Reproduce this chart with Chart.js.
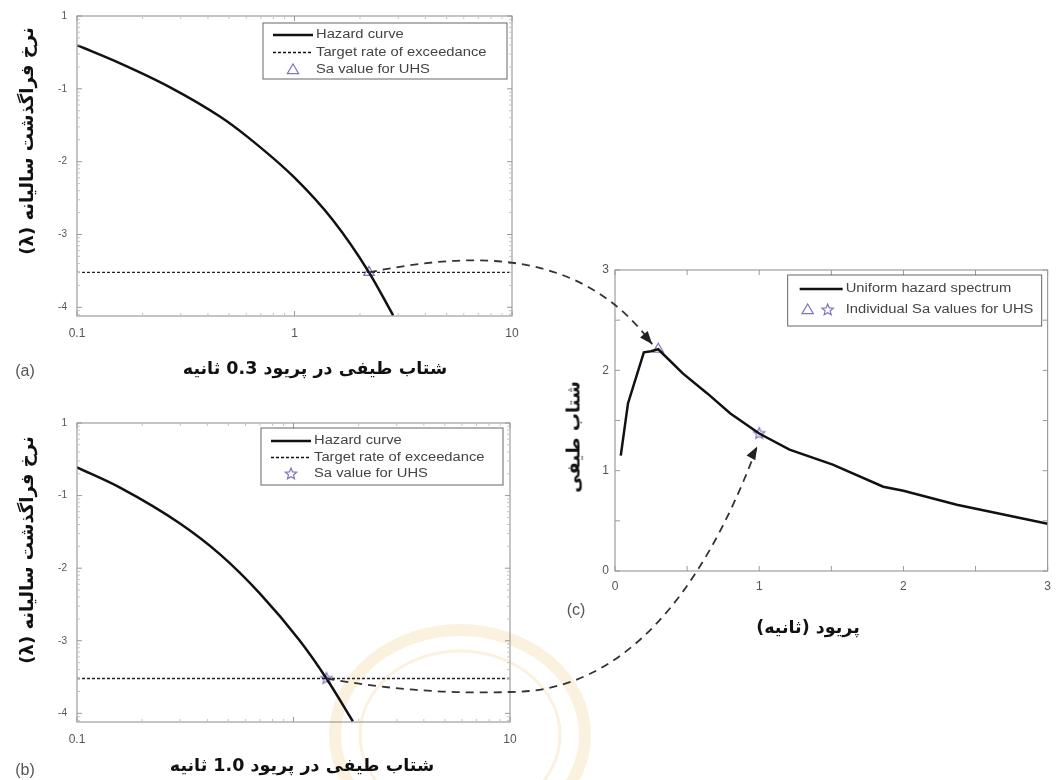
<!DOCTYPE html>
<html>
<head>
<meta charset="utf-8">
<script src="https://cdn.jsdelivr.net/npm/chart.js@4.4.0/dist/chart.umd.min.js"></script>
<style>
  body { margin: 0; background: #fff; width: 1059px; height: 780px; position: relative; overflow: hidden; font-family: "Liberation Sans", Arial, sans-serif; }
  canvas { position: absolute; display: block; }
  .fa { position: absolute; font-family: "DejaVu Sans", sans-serif; font-weight: bold; font-size: 17.5px; color: #111; direction: rtl; white-space: nowrap; transform: translate(-50%, -50%); }
  .fa.rot { font-size: 18px; transform: translate(-50%, -50%) rotate(-90deg); }
  .tag { position: absolute; font-size: 16px; color: #555; transform: translate(-50%, -50%); }
</style>
</head>
<body>
<canvas id="bg" width="1059" height="780" style="left:0;top:0"></canvas>
<canvas id="chartA" width="540" height="345" style="left:0;top:0"></canvas>
<canvas id="chartB" width="540" height="350" style="left:0;top:400px"></canvas>
<canvas id="chartC" width="499" height="345" style="left:560px;top:250px"></canvas>
<canvas id="arrows" width="1059" height="780" style="left:0;top:0;pointer-events:none"></canvas>

<div class="fa rot" style="left:26px;top:141px">نرخ فراگذشت سالیانه (λ)</div>
<div class="fa" style="left:315px;top:368px">شتاب طیفی در پریود 0.3 ثانیه</div>
<div class="tag" style="left:25px;top:371px">(a)</div>

<div class="fa rot" style="left:26px;top:550px">نرخ فراگذشت سالیانه (λ)</div>
<div class="fa" style="left:302px;top:765px">شتاب طیفی در پریود 1.0 ثانیه</div>
<div class="tag" style="left:25px;top:770px">(b)</div>

<div class="fa rot" style="left:573px;top:437px">شتاب طیفی</div>
<div class="fa" style="left:808px;top:627px">پریود (ثانیه)</div>
<div class="tag" style="left:576px;top:610px">(c)</div>

<script>
// hazard curve for T = 0.3 s
const hazardA_sa = [0.1, 0.158, 0.268, 0.454, 0.6, 1.0, 1.5, 2.2, 2.84];
const hazardA_rate = [0.398, 0.224, 0.105, 0.0417, 0.0226, 0.00603, 0.00158, 0.000302, 0.0000776];
// hazard curve for T = 1.0 s
const hazardB_sa = [0.1, 0.158, 0.299, 0.458, 0.70, 1.07, 1.42, 1.88];
const hazardB_rate = [0.245, 0.129, 0.0413, 0.0155, 0.00447, 0.001, 0.000302, 0.0000776];
const targetRate = 0.000302;
// Sa where each hazard curve meets the target rate
const hazardMarkSa = [2.2, 1.42];

// uniform hazard spectrum
const uhsPeriod = [0.04, 0.09, 0.2, 0.25, 0.3, 0.47, 0.64, 0.8, 1.0, 1.21, 1.51, 1.86, 2.0, 2.37, 3.0];
const uhsSa = [1.15, 1.67, 2.18, 2.19, 2.21, 1.97, 1.77, 1.57, 1.37, 1.21, 1.06, 0.84, 0.80, 0.66, 0.47];
const markPeriod = [0.3, 1.0];
const markSa = [2.21, 1.37];

const hazardXTicks = [0.1, 1, 10];
const hazardXLabelsA = ['0.1', '1', '10'];
const hazardXLabelsB = ['0.1', '', '10'];
const hazardYTicks = [0.0001, 0.001, 0.01, 0.1, 1];
const hazardYLabels = ['-4', '-3', '-2', '-1', '1'];
const hazardRateMin = 0.000076;

const legendA = ['Hazard curve', 'Target rate of exceedance', 'Sa value for UHS'];
const legendC = ['Uniform hazard spectrum', 'Individual Sa values for UHS'];

const MARK = '#7d76c0';
Chart.defaults.font.family = '"Liberation Sans", Arial, sans-serif';
Chart.defaults.color = '#555';

function starImage(r, color) {
  const c = document.createElement('canvas');
  c.width = c.height = 2 * r + 4;
  drawStar(c.getContext('2d'), c.width / 2, c.height / 2, r, color);
  return c;
}
function drawStar(g, cx, cy, r, color) {
  g.beginPath();
  for (let i = 0; i < 10; i++) {
    const a = -Math.PI / 2 + i * Math.PI / 5;
    const rr = i % 2 ? r * 0.45 : r;
    g.lineTo(cx + rr * Math.cos(a), cy + rr * Math.sin(a));
  }
  g.closePath();
  g.strokeStyle = color; g.lineWidth = 1.2; g.setLineDash([]); g.stroke();
}
function drawTri(g, cx, cy, r, color) {
  g.beginPath();
  g.moveTo(cx, cy - r); g.lineTo(cx + r * 0.95, cy + r * 0.6); g.lineTo(cx - r * 0.95, cy + r * 0.6);
  g.closePath();
  g.strokeStyle = color; g.lineWidth = 1.2; g.setLineDash([]); g.stroke();
}

function tickList(scale) {
  const out = [];
  if (scale.type === 'logarithmic') {
    for (let e = -5; e <= 1; e++) for (let m = 1; m < 10; m++) {
      const v = m * Math.pow(10, e);
      if (v >= scale.min * 0.999 && v <= scale.max * 1.001) out.push([v, m === 1]);
    }
  } else {
    scale.ticks.forEach(t => out.push([t.value, true]));
  }
  return out;
}

// MATLAB-like box, inward ticks and in-axes legend
const frame = {
  id: 'frame',
  afterDraw(chart, args, opts) {
    const { ctx, chartArea: a, scales } = chart;
    ctx.save();
    ctx.strokeStyle = '#8a8a8a'; ctx.lineWidth = 1; ctx.setLineDash([]);
    ctx.strokeRect(a.left, a.top, a.right - a.left, a.bottom - a.top);
    tickList(scales.x).forEach(([v, major]) => {
      const px = scales.x.getPixelForValue(v), L = major ? 5 : 3;
      ctx.strokeStyle = major ? '#999' : '#c4c4c4';
      ctx.beginPath();
      ctx.moveTo(px, a.bottom); ctx.lineTo(px, a.bottom - L);
      ctx.moveTo(px, a.top); ctx.lineTo(px, a.top + L);
      ctx.stroke();
    });
    tickList(scales.y).forEach(([v, major]) => {
      const py = scales.y.getPixelForValue(v), L = major ? 5 : 3;
      ctx.strokeStyle = major ? '#999' : '#c4c4c4';
      ctx.beginPath();
      ctx.moveTo(a.left, py); ctx.lineTo(a.left + L, py);
      ctx.moveTo(a.right, py); ctx.lineTo(a.right - L, py);
      ctx.stroke();
    });

    const lg = opts.legend;
    const x0 = a.right - lg.right - lg.width, y0 = a.top + lg.top;
    ctx.fillStyle = '#fff';
    ctx.fillRect(x0, y0, lg.width, lg.height);
    ctx.strokeStyle = '#666';
    ctx.strokeRect(x0, y0, lg.width, lg.height);
    lg.items.forEach((it, i) => {
      const y = y0 + lg.first + i * lg.gap;
      const s0 = x0 + lg.sample[0], s1 = x0 + lg.sample[1];
      if (it.kind === 'solid' || it.kind === 'dash') {
        ctx.beginPath();
        ctx.strokeStyle = '#111';
        ctx.lineWidth = it.kind === 'solid' ? 2.5 : 1.3;
        ctx.setLineDash(it.kind === 'solid' ? [] : [3, 2]);
        ctx.moveTo(s0, y); ctx.lineTo(s1, y); ctx.stroke();
      } else if (it.kind === 'tri') {
        drawTri(ctx, (s0 + s1) / 2, y, 6, MARK);
      } else if (it.kind === 'star') {
        drawStar(ctx, (s0 + s1) / 2, y, 6, MARK);
      } else {
        drawTri(ctx, s0 + 8, y, 6, MARK);
        drawStar(ctx, s0 + 28, y, 6, MARK);
      }
      ctx.save();
      ctx.translate(x0 + lg.text, y);
      ctx.scale(1.18, 1);
      ctx.fillStyle = '#444';
      ctx.font = '12.5px "Liberation Sans", Arial, sans-serif';
      ctx.textBaseline = 'middle';
      ctx.fillText(it.text, 0, 0);
      ctx.restore();
    });
    ctx.restore();
  }
};

function hazardChart(id, sa, rate, xLabels, markerIdx, marker, padding, legend) {
  return new Chart(document.getElementById(id), {
    type: 'line',
    data: {
      datasets: [
        {
          data: sa.map((v, i) => ({ x: v, y: rate[i] })),
          borderColor: '#111', borderWidth: 2.5, pointRadius: 0,
          cubicInterpolationMode: 'monotone', fill: false
        },
        {
          data: [{ x: hazardXTicks[0], y: targetRate }, { x: hazardXTicks[2], y: targetRate }],
          borderColor: '#222', borderWidth: 1.3, borderDash: [3, 2], pointRadius: 0
        },
        {
          data: [{ x: hazardMarkSa[markerIdx], y: targetRate }],
          showLine: false, pointStyle: marker, pointRadius: 6,
          borderColor: MARK, backgroundColor: 'rgba(0,0,0,0)', borderWidth: 1.2
        }
      ]
    },
    options: {
      responsive: false, animation: false,
      layout: { padding },
      plugins: { legend: { display: false }, tooltip: { enabled: false }, frame: { legend } },
      scales: {
        x: {
          type: 'logarithmic', min: 0.1, max: 10,
          afterBuildTicks: s => { s.ticks = hazardXTicks.map(v => ({ value: v })); },
          afterFit: s => { s.height = 22; },
          grid: { display: false, drawTicks: false }, border: { display: false },
          ticks: { padding: 10, font: { size: 12 }, maxRotation: 0, autoSkip: false, callback: (v, i) => xLabels[i] }
        },
        y: {
          type: 'logarithmic', min: hazardRateMin, max: 1,
          afterBuildTicks: s => { s.ticks = hazardYTicks.map(v => ({ value: v })); },
          afterFit: s => { s.width = 28; },
          grid: { display: false, drawTicks: false }, border: { display: false },
          ticks: { padding: 10, font: { size: 10 }, autoSkip: false, callback: (v, i) => hazardYLabels[i] }
        }
      }
    },
    plugins: [frame]
  });
}

const chartA = hazardChart('chartA', hazardA_sa, hazardA_rate, hazardXLabelsA, 0, 'triangle',
  { left: 49, top: 16, right: 28, bottom: 7 },
  { right: 5, top: 7, width: 244, height: 56, first: 12, gap: 17.5, sample: [10, 50], text: 53,
    items: [{ kind: 'solid', text: legendA[0] }, { kind: 'dash', text: legendA[1] }, { kind: 'tri', text: legendA[2] }] });

const chartB = hazardChart('chartB', hazardB_sa, hazardB_rate, hazardXLabelsB, 1, starImage(6, MARK),
  { left: 49, top: 23, right: 30, bottom: 6 },
  { right: 7, top: 5, width: 242, height: 57, first: 13, gap: 16.5, sample: [10, 50], text: 53,
    items: [{ kind: 'solid', text: legendA[0] }, { kind: 'dash', text: legendA[1] }, { kind: 'star', text: legendA[2] }] });

const chartC = new Chart(document.getElementById('chartC'), {
  type: 'line',
  data: {
    datasets: [
      {
        data: uhsPeriod.map((t, i) => ({ x: t, y: uhsSa[i] })),
        borderColor: '#111', borderWidth: 2.5, pointRadius: 0, tension: 0
      },
      {
        data: [{ x: markPeriod[0], y: markSa[0] }],
        showLine: false, pointStyle: 'triangle', pointRadius: 6,
        borderColor: MARK, backgroundColor: 'rgba(0,0,0,0)', borderWidth: 1.2
      },
      {
        data: [{ x: markPeriod[1], y: markSa[1] }],
        showLine: false, pointStyle: starImage(6, MARK), pointRadius: 6
      }
    ]
  },
  options: {
    responsive: false, animation: false,
    layout: { padding: { left: 33, top: 20, right: 11, bottom: 2 } },
    plugins: {
      legend: { display: false }, tooltip: { enabled: false },
      frame: { legend: { right: 6, top: 5, width: 254, height: 51, first: 14, gap: 21, sample: [12, 55], text: 58,
        items: [{ kind: 'solid', text: legendC[0] }, { kind: 'tristar', text: legendC[1] }] } }
    },
    scales: {
      x: {
        type: 'linear', min: 0, max: 3,
        afterFit: s => { s.height = 22; },
        grid: { display: false, drawTicks: false }, border: { display: false },
        ticks: { stepSize: 0.5, padding: 8, font: { size: 12 }, maxRotation: 0, autoSkip: false,
          callback: v => Number.isInteger(v) ? String(v) : '' }
      },
      y: {
        type: 'linear', min: 0, max: 3,
        afterFit: s => { s.width = 22; },
        grid: { display: false, drawTicks: false }, border: { display: false },
        ticks: { stepSize: 0.5, padding: 6, font: { size: 12 }, autoSkip: false,
          callback: v => Number.isInteger(v) ? String(v) : '' }
      }
    }
  },
  plugins: [frame]
});

// faint watermark ring behind chart (b)
const bg = document.getElementById('bg').getContext('2d');
bg.strokeStyle = 'rgba(232,196,110,0.22)';
bg.lineWidth = 12;
bg.beginPath(); bg.ellipse(460, 735, 125, 105, 0, 0, Math.PI * 2); bg.stroke();
bg.lineWidth = 3;
bg.beginPath(); bg.ellipse(460, 735, 100, 84, 0, 0, Math.PI * 2); bg.stroke();

// dashed arrows from the hazard curves to the spectrum
function pagePt(chart, left, top, x, y) {
  return [left + chart.scales.x.getPixelForValue(x), top + chart.scales.y.getPixelForValue(y)];
}
const g = document.getElementById('arrows').getContext('2d');
function arrowHead(tip, from) {
  const ang = Math.atan2(tip[1] - from[1], tip[0] - from[0]);
  g.setLineDash([]);
  g.beginPath();
  g.moveTo(tip[0], tip[1]);
  g.lineTo(tip[0] - 13 * Math.cos(ang) + 5 * Math.sin(ang), tip[1] - 13 * Math.sin(ang) - 5 * Math.cos(ang));
  g.lineTo(tip[0] - 13 * Math.cos(ang) - 5 * Math.sin(ang), tip[1] - 13 * Math.sin(ang) + 5 * Math.cos(ang));
  g.closePath();
  g.fillStyle = '#222'; g.fill();
}
g.strokeStyle = '#333';
g.lineWidth = 1.8;

const a0 = pagePt(chartA, 0, 0, hazardMarkSa[0], targetRate);
const c0 = pagePt(chartC, 560, 250, markPeriod[0], markSa[0]);
const tip1 = [c0[0] - 6, c0[1] - 5];
g.setLineDash([8, 6]);
g.beginPath();
g.moveTo(a0[0], a0[1]);
g.bezierCurveTo(a0[0] + 100, a0[1] - 20, tip1[0] - 72, tip1[1] - 98, tip1[0], tip1[1]);
g.stroke();
arrowHead(tip1, [tip1[0] - 22, tip1[1] - 26]);

const b0 = pagePt(chartB, 0, 400, hazardMarkSa[1], targetRate);
const c1 = pagePt(chartC, 560, 250, markPeriod[1], markSa[1]);
const tip2 = [c1[0] - 2, c1[1] + 13];
g.setLineDash([8, 6]);
g.beginPath();
g.moveTo(b0[0], b0[1]);
g.quadraticCurveTo(420, 695, 510, 692);
g.bezierCurveTo(620, 692, 700, 600, tip2[0], tip2[1]);
g.stroke();
arrowHead(tip2, [tip2[0] - 20, tip2[1] + 36]);
</script>
</body>
</html>
